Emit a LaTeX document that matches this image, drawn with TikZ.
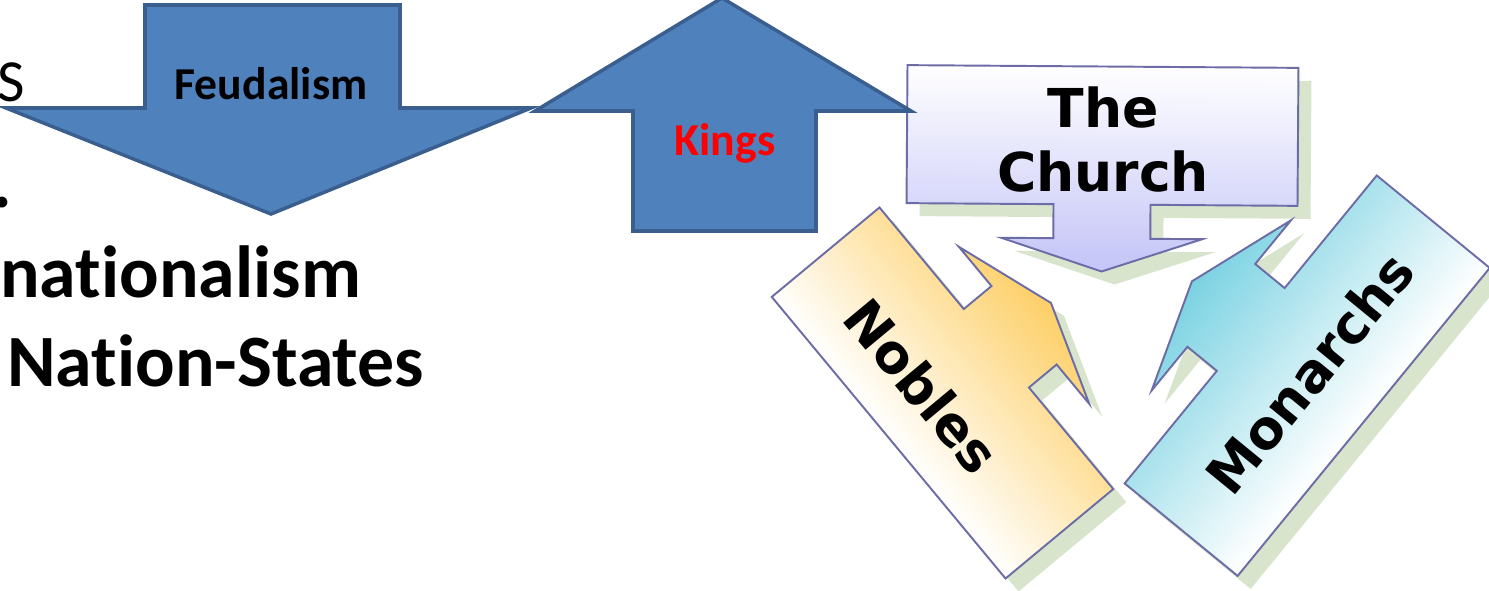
\documentclass[tikz,border=0pt]{standalone}
\usepackage{fontspec}
\setmainfont{Carlito}[Ligatures=NoCommon]
\newfontfamily\boxfont{DejaVu Sans}
\definecolor{arrowblue}{HTML}{4F81BD}
\definecolor{arrowline}{HTML}{3A5F8E}
\definecolor{boxline}{HTML}{6C6CA6}
\definecolor{shadowgreen}{HTML}{D8E4CC}
\definecolor{churchblue}{HTML}{C4C4F8}
\definecolor{noblegold}{HTML}{FDCF66}
\definecolor{monarchcyan}{HTML}{7AD2E2}
\definecolor{kingred}{HTML}{FF0000}

\tikzset{
  bigarrow/.style={fill=arrowblue, draw=arrowline, line width=2pt, line join=miter},
  calloutbox/.style={draw=boxline, line width=1.1pt, line join=miter},
  calloutshadow/.style={fill=shadowgreen, draw=none},
  slidetext/.style={font=\bfseries\fontsize{42}{42}\selectfont, anchor=base west, inner sep=0pt},
  arrowlabel/.style={font=\bfseries\fontsize{26}{26}\selectfont, anchor=base, inner sep=0pt},
  boxlabel/.style={font=\boxfont\bfseries\fontsize{30.5}{36.4}\selectfont, align=center, inner sep=0pt}
}

% callout: options, box width, box height, shaft width, shaft length, head width, head depth
\newcommand\callout[7]{%
  \path[#1] (-#2/2,-#3/2) -- (#2/2,-#3/2) -- (#2/2,#3/2) -- (#4/2,#3/2) -- (#4/2,#3/2+#5)
    -- (#6/2,#3/2+#5) -- (0,#3/2+#5+#7) -- (-#6/2,#3/2+#5) -- (-#4/2,#3/2+#5)
    -- (-#4/2,#3/2) -- (-#2/2,#3/2) -- cycle;}

% same callout, faded from white (far side) to a colour (arrow tip)
\newcommand\fadedcallout[7]{%
  \begin{scope}
    \callout{clip}{#2}{#3}{#4}{#5}{#6}{#7}
    \foreach \k in {0,...,49} {
      \pgfmathsetmacro\pct{2*\k+1}
      \fill[#1!\pct!white] (-#2/2-4,{-#3/2+\k*(#3+#5+#7)/50}) rectangle (#2/2+4,{-#3/2+(\k+1.3)*(#3+#5+#7)/50});
    }
  \end{scope}
  \callout{calloutbox}{#2}{#3}{#4}{#5}{#6}{#7}}

\begin{document}
\begin{tikzpicture}[x=0.02cm, y=-0.02cm]
\useasboundingbox (0,0) rectangle (1489,591);
\clip (0,0) rectangle (1489,591);
\fill[white] (0,0) rectangle (1489,591);

% cut off text at the edges
\node[font=\bfseries\fontsize{114}{114}\selectfont, anchor=base, inner sep=0pt] (titleg) at (710,-35) {g};
\node[font=\fontsize{34}{34}\selectfont, anchor=base west, inner sep=0pt] (edgeS) at (-3,102) {S};
\node[slidetext] (edgedot) at (-8,208) {.};

% shadows
\begin{scope}[shift={(1115.5,148.5)}, rotate=-0.4]
  \callout{calloutshadow}{391}{138}{97}{34}{201}{33}
\end{scope}
\begin{scope}[shift={(955.5,406)}, rotate=129.7]
  \callout{calloutshadow}{366}{140}{102}{36}{204}{35}
\end{scope}
\begin{scope}[shift={(1320.2,388.7)}, rotate=230.7]
  \callout{calloutshadow}{398}{146}{107}{38}{220}{38}
\end{scope}

% the three callouts
\begin{scope}[shift={(1102.5,135.5)}, rotate=-0.4]
  \fadedcallout{churchblue}{391}{138}{97}{34}{201}{33}
\end{scope}
\begin{scope}[shift={(942.5,393)}, rotate=129.7]
  \fadedcallout{noblegold}{366}{140}{102}{36}{204}{35}
\end{scope}
\begin{scope}[shift={(1307.2,375.7)}, rotate=230.7]
  \fadedcallout{monarchcyan}{398}{146}{107}{38}{220}{38}
\end{scope}

% blue block arrows
\draw[bigarrow] (145,5) -- (400,5) -- (400,108) -- (531,108) -- (271,214) -- (6,108) -- (145,108) -- cycle;
\draw[bigarrow] (722,-2) -- (911,111) -- (816,111) -- (816,231) -- (633,231) -- (633,111) -- (535,111) -- cycle;

\node[arrowlabel] (feudal) at (271,100) {Feudalism};
\node[arrowlabel, text=kingred] (kings) at (725,156) {Kings};

\node[slidetext] (nationalism) at (0,298) {nationalism};
\node[slidetext] (nationstates) at (7,387) {Nation-States};

\node[boxlabel] (church) at (1103,140) {The\\Church};
\node[boxlabel, rotate=-50.3] (nobles) at (922,386) {Nobles};
\node[boxlabel, rotate=50.7] (monarchs) at (1310,373) {Monarchs};
\end{tikzpicture}
\end{document}
